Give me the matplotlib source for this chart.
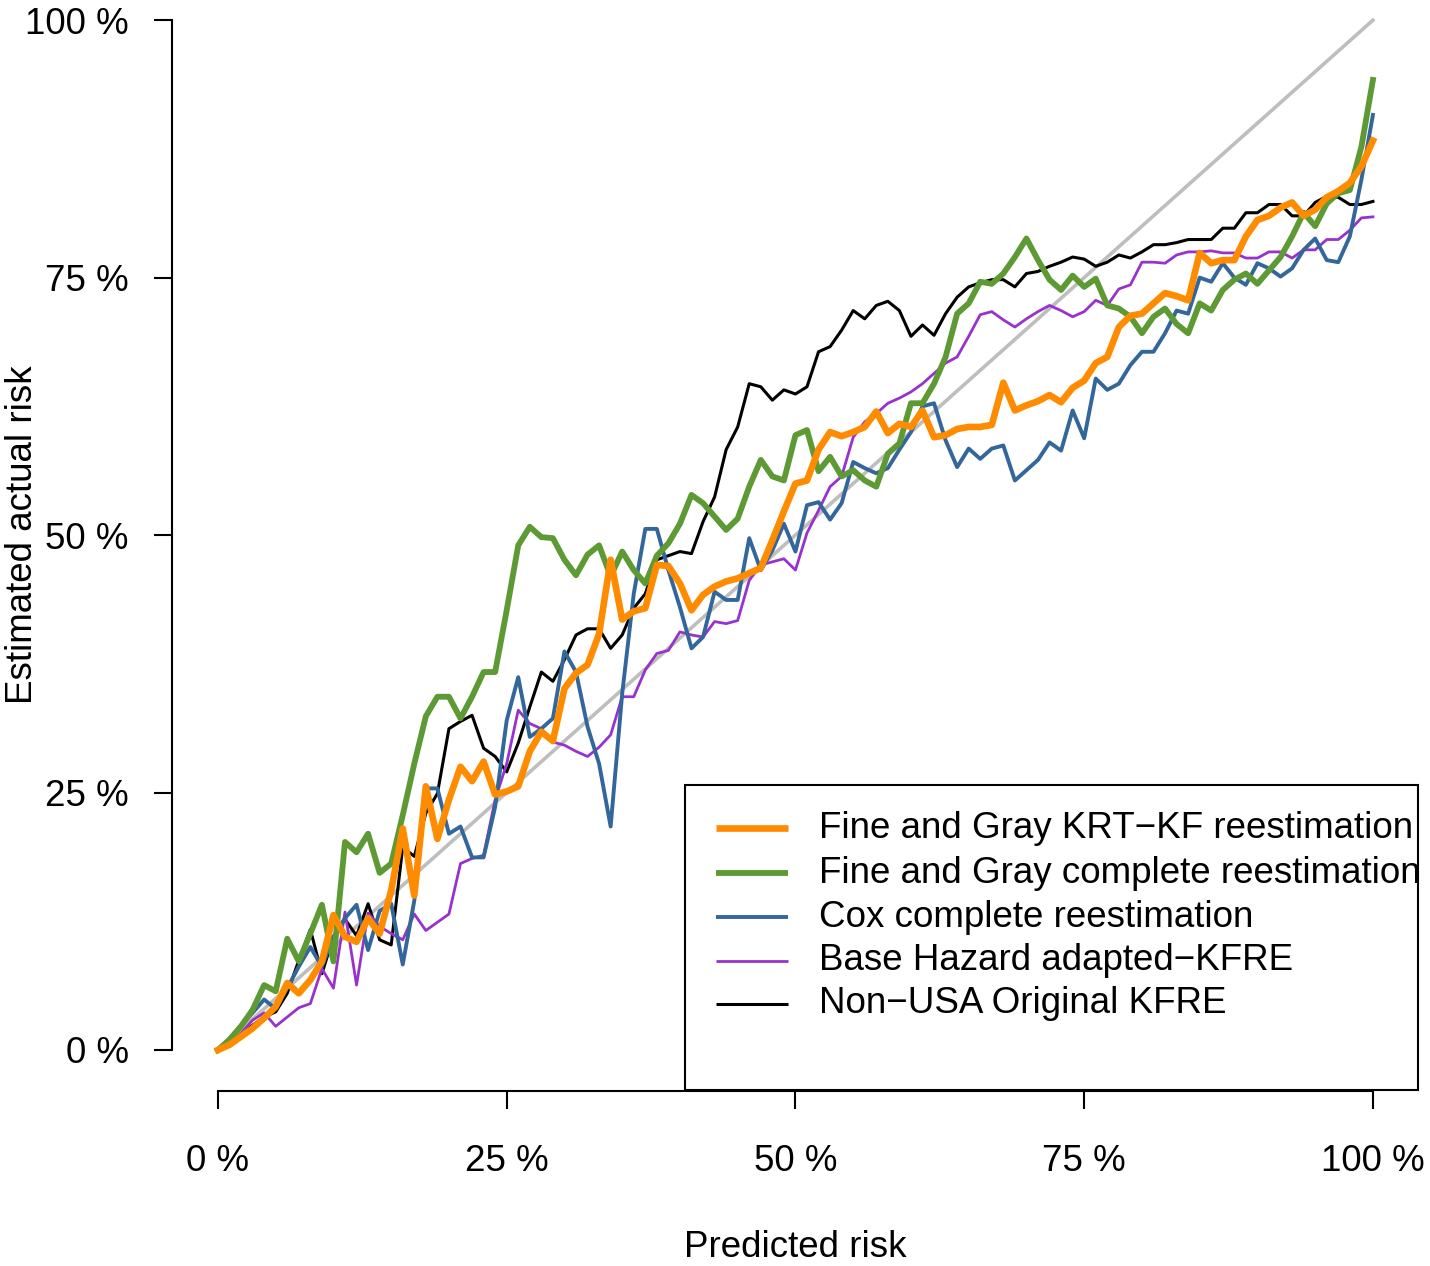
import numpy as np
import matplotlib
matplotlib.use("Agg")
import matplotlib.pyplot as plt
from matplotlib.patches import Rectangle

plt.rcParams["font.family"] = ["Liberation Sans", "DejaVu Sans"]

# predicted risk grid (%)
pred = np.arange(0, 101)

fg_krt = [0, 0.5, 1.3, 2.1, 3.1, 4.2, 6.5, 5.5, 6.8, 8.6,
          13.1, 11, 10.5, 12.8, 11.3, 15.5, 21.5, 15, 25.6, 20.5,
          24.3, 27.5, 26.1, 28, 24.8, 25.1, 25.6, 29, 30.9, 30,
          35.1, 36.6, 37.4, 40.4, 47.6, 41.8, 42.6, 42.9, 47.1, 47,
          45.3, 42.7, 44.2, 45, 45.5, 45.8, 46.3, 46.8, 49.5, 52.3,
          55, 55.3, 58.3, 60, 59.6, 60, 60.5, 62, 59.9, 60.8,
          60.5, 62.1, 59.5, 59.7, 60.3, 60.5, 60.5, 60.7, 64.8, 62.1,
          62.6, 63, 63.6, 62.9, 64.3, 65, 66.7, 67.3, 70.2, 71.3,
          71.5, 72.5, 73.5, 73.2, 72.8, 77.4, 76.4, 76.7, 76.7, 79,
          80.6, 81, 81.8, 82.3, 81, 81.6, 82.8, 83.4, 84.2, 85.8,
          88.3]

fg_complete = [0, 1, 2.3, 3.9, 6.3, 5.7, 10.8, 8.6, 11.3, 14.1,
               8.6, 20.2, 19.2, 21, 17.2, 18.1, 22.8, 27.8, 32.4, 34.3,
               34.3, 32.2, 34.3, 36.7, 36.7, 42.7, 49, 50.8, 49.8, 49.7,
               47.6, 46.1, 48.1, 49, 46, 48.4, 46.6, 45.3, 48, 49.2,
               51.1, 53.9, 53.1, 51.8, 50.5, 51.6, 54.7, 57.3, 55.7, 55.3,
               59.7, 60.2, 56.2, 57.6, 55.7, 56.3, 55.3, 54.7, 57.9, 58.9,
               62.8, 62.8, 64.7, 67.3, 71.5, 72.5, 74.6, 74.4, 75.4, 77,
               78.8, 76.7, 74.8, 73.8, 75.2, 74.1, 74.9, 72.3, 72, 71.2,
               69.6, 71.2, 72, 70.5, 69.6, 72.5, 71.8, 73.8, 74.8, 75.4,
               74.4, 75.7, 77, 79, 81.3, 80, 82.2, 83.2, 83.5, 87.7,
               94.2]

cox_complete = [0, 1.1, 2.4, 3.6, 4.9, 4, 6, 8.1, 10, 8.1,
                11, 12.8, 14.1, 9.7, 13.5, 14.2, 8.3, 14.5, 25.4, 25.4,
                21, 21.7, 18.7, 18.7, 23.6, 32, 36.2, 30.4, 31.2, 32.2,
                38.7, 36.7, 31.4, 27.8, 21.7, 34.6, 44.3, 50.6, 50.6, 46.6,
                43, 39, 40.1, 44.5, 43.7, 43.7, 49.7, 46.6, 48.5, 51.1,
                48.4, 52.9, 53.2, 51.5, 53.1, 57.1, 56.5, 56, 56.5, 58.3,
                60, 62.5, 62.8, 59.2, 56.6, 58.4, 57.4, 58.4, 58.7, 55.3,
                56.3, 57.3, 59, 58.2, 62.1, 59.4, 65.2, 64.1, 64.7, 66.5,
                67.8, 67.8, 69.6, 71.8, 71.5, 75, 74.6, 76.4, 75, 74.3,
                76.4, 75.9, 75.1, 75.9, 77.7, 78.8, 76.7, 76.5, 79, 84.5,
                90.8]

base_hazard = [0, 0.6, 1.6, 2.9, 3.6, 2.3, 3.2, 4.1, 4.5, 7.9,
               6, 13.4, 6.3, 13.3, 12, 11.3, 10.7, 13.2, 11.6, 12.4,
               13.2, 18.1, 18.6, 18.9, 24.3, 27.8, 33, 31.7, 31.2, 29.9,
               29.6, 29, 28.5, 29.4, 30.6, 34.3, 34.3, 36.9, 38.5, 38.8,
               40.6, 40.3, 40.1, 41.6, 41.4, 41.7, 45.6, 47.1, 47.4, 47.7,
               46.6, 50.2, 52.4, 54.7, 55.7, 59.5, 61, 61.8, 62.8, 63.3,
               63.9, 64.7, 65.7, 66.7, 67.3, 69.3, 71.4, 71.7, 70.9, 70.2,
               71, 71.7, 72.3, 71.8, 71.2, 71.7, 72.8, 72.3, 73.9, 74.3,
               76.5, 76.5, 76.4, 77.2, 77.5, 77.5, 77.6, 77.4, 77.4, 76.9,
               76.9, 77.5, 77.5, 76.9, 77.7, 77.7, 78.7, 78.7, 79.6, 80.8,
               80.9]

non_usa = [0, 0.6, 1.5, 2.4, 3.2, 3.7, 5.5, 8.7, 11.7, 7.4,
           11, 12.7, 11.1, 14.2, 10.7, 10.2, 19.7, 18.8, 23, 24.9,
           31.2, 31.9, 32.5, 29.3, 28.5, 27, 29.8, 33.3, 36.7, 35.8,
           37.9, 40.3, 40.9, 40.9, 39, 40.3, 42.9, 44.3, 47.6, 48,
           48.4, 48.2, 51.3, 53.7, 58.3, 60.5, 64.7, 64.4, 63.1, 64.1,
           63.7, 64.4, 67.8, 68.3, 69.9, 71.8, 71, 72.3, 72.7, 71.8,
           69.3, 70.4, 69.4, 71.5, 73.1, 74.1, 74.5, 74.8, 74.8, 74.1,
           75.4, 75.6, 76.1, 76.5, 77, 76.8, 76.1, 76.5, 77.2, 76.9,
           77.5, 78.2, 78.2, 78.4, 78.7, 78.7, 78.7, 79.8, 79.8, 81.3,
           81.3, 82.1, 82.1, 81, 81, 82.3, 82.9, 82.8, 82.1, 82.1,
           82.4]

labels = ["Fine and Gray KRT\u2212KF reestimation",
          "Fine and Gray complete reestimation",
          "Cox complete reestimation",
          "Base Hazard adapted\u2212KFRE",
          "Non\u2212USA Original KFRE"]
series = [fg_krt, fg_complete, cox_complete, base_hazard, non_usa]
colors = ["#FF8C00", "#5E9A34", "#33669A", "#9932CC", "black"]
widths = [4.8, 4.2, 2.8, 2.0, 2.2]
zorders = [8, 7, 6, 5, 4]

ticks = [0, 25, 50, 75, 100]
tick_labels = ["0 %", "25 %", "50 %", "75 %", "100 %"]

fs = 26.5

fig = plt.figure(figsize=(14.3, 12.66), dpi=100)
ax = fig.add_axes([0.1201, 0.1381, 0.8723, 0.8785])
ax.set_xlim(-4, 104)
ax.set_ylim(-4, 104)

# reference diagonal
ax.plot([0, 100], [0, 100], color="#BEBEBE", lw=2.6, zorder=2)

for y, c, w, z in zip(series, colors, widths, zorders):
    ax.plot(pred, y, color=c, lw=w, zorder=z, solid_joinstyle="round")

for s in ["top", "right"]:
    ax.spines[s].set_visible(False)
ax.spines["left"].set_bounds(0, 100)
ax.spines["bottom"].set_bounds(0, 100)
for s in ["left", "bottom"]:
    ax.spines[s].set_linewidth(1.5)

ax.set_xticks(ticks)
ax.set_xticklabels(tick_labels)
ax.set_yticks(ticks)
ax.set_yticklabels(tick_labels)
ax.tick_params(axis="both", length=13, width=1.5, labelsize=fs)
ax.tick_params(axis="x", pad=25)
ax.tick_params(axis="y", pad=18)

ax.set_xlabel("Predicted risk", fontsize=fs)
ax.xaxis.set_label_coords(0.5, -0.141)
ax.xaxis.label.set_va("center")
ax.set_ylabel("Estimated actual risk", fontsize=fs)
ax.yaxis.set_label_coords(-0.120, 0.5)
ax.yaxis.label.set_va("center")

# legend box, bottom right corner of the plot region
ax.add_patch(Rectangle((40.43, -3.88), 63.5, 29.6, facecolor="white",
                       edgecolor="black", lw=1.5, zorder=10, clip_on=False))
rows = [21.55, 17.18, 12.91, 8.64, 4.47]
for lab, c, w, yy in zip(labels, colors, widths, rows):
    ax.plot([43.1, 49.35], [yy, yy], color=c, lw=w, zorder=11,
            solid_capstyle="butt")
    ax.text(52.03, yy, lab, fontsize=fs, va="center", ha="left", zorder=12)

fig.savefig("out.png", dpi=100)
